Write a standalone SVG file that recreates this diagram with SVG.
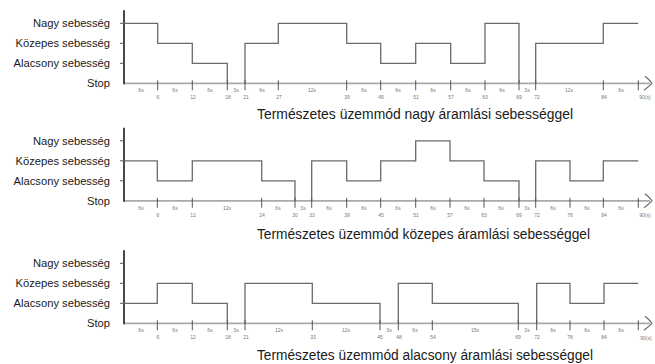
<svg xmlns="http://www.w3.org/2000/svg" width="655" height="364" viewBox="0 0 655 364">
<style>
.lvl{font-family:"Liberation Sans",Arial,sans-serif;font-size:11.2px;fill:#1a1a1a;text-anchor:end}
.cap{font-family:"Liberation Sans",Arial,sans-serif;font-size:13.8px;fill:#1a1a1a}
.sm{font-family:"Liberation Sans",Arial,sans-serif;font-size:5px;fill:#777;text-anchor:middle}
.yax{stroke:#333;stroke-width:1.8;fill:none}
.xax{stroke:#aaa;stroke-width:1.8;fill:none}
.step{stroke:#6a6a6a;stroke-width:1.3;fill:none}
.tk{stroke:#555;stroke-width:1;fill:none}
.arr{stroke:#666;stroke-width:1.1;fill:none}
</style>
<defs>
<g id="frame">
<path class="xax" d="M124,60 H650"/>
<path class="arr" d="M645,53 Q650,57 652,60 Q649,63 644,67"/>
<path class="yax" d="M124,-13 V61"/>
<path class="tk" d="M120,0 H124 M120,20 H124 M120,40 H124"/>
<text class="lvl" x="110" y="3.8">Nagy sebesség</text>
<text class="lvl" x="110" y="23.8">Közepes sebesség</text>
<text class="lvl" x="110" y="43.8">Alacsony sebesség</text>
<text class="lvl" x="110" y="63.8">Stop</text>
</g>
</defs>

<g id="chart-nagy" transform="translate(0,23.3)">
<use href="#frame"/>
<g id="connectors-1">
<path class="step" d="M124,0 H157.7 V20 H192.3 V40 H227.3 V60 M245,60 V20 H278.3 V0 H346.7 V20 H380.7 V40 H415.7 V20 H450.7 V40 H485 V0 H519 V60 M535.7,60 V20 H603.3 V0 H638.3"/>
<path class="tk" d="M157.7,57 V67 M192.3,57 V67 M227.3,57 V67 M245,57 V67 M278.3,57 V67 M346.7,57 V67 M380.7,57 V67 M415.7,57 V67 M450.7,57 V67 M485,57 V67 M519,57 V67 M535.7,57 V67 M603.3,57 V67 M638.3,57 V67"/>
</g>
<g id="ticks-1">
<text class="sm" x="141" y="69">6s</text><text class="sm" x="175" y="69">6s</text><text class="sm" x="210" y="69">6s</text><text class="sm" x="236" y="69">3s</text><text class="sm" x="262" y="69">6s</text><text class="sm" x="312" y="69">12s</text><text class="sm" x="364" y="69">6s</text><text class="sm" x="398" y="69">6s</text><text class="sm" x="433" y="69">6s</text><text class="sm" x="468" y="69">6s</text><text class="sm" x="502" y="69">6s</text><text class="sm" x="527" y="69">3s</text><text class="sm" x="569" y="69">12s</text><text class="sm" x="621" y="69">6s</text>
<text class="sm" x="158" y="76">6</text><text class="sm" x="193" y="76">12</text><text class="sm" x="228" y="76">18</text><text class="sm" x="246" y="76">21</text><text class="sm" x="279" y="76">27</text><text class="sm" x="347" y="76">39</text><text class="sm" x="381" y="76">45</text><text class="sm" x="416" y="76">51</text><text class="sm" x="451" y="76">57</text><text class="sm" x="485" y="76">63</text><text class="sm" x="519" y="76">69</text><text class="sm" x="537" y="76">72</text><text class="sm" x="604" y="76">84</text><text class="sm" x="645" y="76">90(s)</text>
</g>
<text class="cap" x="257" y="96" textLength="316" lengthAdjust="spacingAndGlyphs">Természetes üzemmód nagy áramlási sebességgel</text>
</g>

<g id="chart-kozepes" transform="translate(0,140.8)">
<use href="#frame"/>
<g id="connectors-2">
<path class="step" d="M124,20 H157.3 V40 H192.3 V20 H261.7 V40 H295 V60 M311.7,60 V20 H346.7 V40 H380.7 V20 H415.7 V0 H450 V20 H484 V40 H519 V60 M535.7,60 V20 H570 V40 H603.3 V20 H638.3"/>
<path class="tk" d="M157.3,57 V67 M192.3,57 V67 M261.7,57 V67 M295,57 V67 M311.7,57 V67 M346.7,57 V67 M380.7,57 V67 M415.7,57 V67 M450,57 V67 M484,57 V67 M519,57 V67 M535.7,57 V67 M570,57 V67 M603.3,57 V67 M638.3,57 V67"/>
</g>
<g id="ticks-2">
<text class="sm" x="141" y="69">6s</text><text class="sm" x="175" y="69">6s</text><text class="sm" x="227" y="69">12s</text><text class="sm" x="278" y="69">6s</text><text class="sm" x="303" y="69">3s</text><text class="sm" x="329" y="69">6s</text><text class="sm" x="364" y="69">6s</text><text class="sm" x="398" y="69">6s</text><text class="sm" x="433" y="69">6s</text><text class="sm" x="467" y="69">6s</text><text class="sm" x="501" y="69">6s</text><text class="sm" x="527" y="69">3s</text><text class="sm" x="553" y="69">6s</text><text class="sm" x="587" y="69">6s</text><text class="sm" x="621" y="69">6s</text>
<text class="sm" x="158" y="76">6</text><text class="sm" x="193" y="76">12</text><text class="sm" x="262" y="76">24</text><text class="sm" x="295" y="76">30</text><text class="sm" x="312" y="76">33</text><text class="sm" x="347" y="76">39</text><text class="sm" x="381" y="76">45</text><text class="sm" x="416" y="76">51</text><text class="sm" x="450" y="76">57</text><text class="sm" x="484" y="76">63</text><text class="sm" x="519" y="76">69</text><text class="sm" x="537" y="76">72</text><text class="sm" x="570" y="76">78</text><text class="sm" x="604" y="76">84</text><text class="sm" x="645" y="76">90(s)</text>
</g>
<text class="cap" x="257" y="98.5" textLength="333" lengthAdjust="spacingAndGlyphs">Természetes üzemmód közepes áramlási sebességgel</text>
</g>

<g id="chart-alacsony" transform="translate(0,263.3)">
<use href="#frame"/>
<g id="connectors-3">
<path class="step" d="M124,40 H157.3 V20 H192.3 V40 H227.3 V60 M245,60 V20 H312.3 V40 H380 V60 M398.3,60 V20 H432.3 V40 H518.3 V60 M536.7,60 V20 H570 V40 H604 V20 H638.3"/>
<path class="tk" d="M157.3,57 V67 M192.3,57 V67 M227.3,57 V67 M245,57 V67 M312.3,57 V67 M380,57 V67 M398.3,57 V67 M432.3,57 V67 M518.3,57 V67 M536.7,57 V67 M570,57 V67 M604,57 V67 M638.3,57 V67"/>
</g>
<g id="ticks-3">
<text class="sm" x="141" y="69">6s</text><text class="sm" x="175" y="69">6s</text><text class="sm" x="210" y="69">6s</text><text class="sm" x="236" y="69">3s</text><text class="sm" x="279" y="69">12s</text><text class="sm" x="346" y="69">12s</text><text class="sm" x="389" y="69">3s</text><text class="sm" x="415" y="69">6s</text><text class="sm" x="475" y="69">15s</text><text class="sm" x="527" y="69">3s</text><text class="sm" x="553" y="69">6s</text><text class="sm" x="587" y="69">6s</text><text class="sm" x="621" y="69">6s</text>
<text class="sm" x="158" y="76">6</text><text class="sm" x="193" y="76">12</text><text class="sm" x="228" y="76">18</text><text class="sm" x="246" y="76">21</text><text class="sm" x="313" y="76">33</text><text class="sm" x="380" y="76">45</text><text class="sm" x="399" y="76">48</text><text class="sm" x="433" y="76">54</text><text class="sm" x="518" y="76">69</text><text class="sm" x="537" y="76">72</text><text class="sm" x="570" y="76">78</text><text class="sm" x="604" y="76">84</text><text class="sm" x="646" y="77">90(s)</text>
</g>
<text class="cap" x="257" y="97" textLength="336" lengthAdjust="spacingAndGlyphs">Természetes üzemmód alacsony áramlási sebességgel</text>
</g>
</svg>
